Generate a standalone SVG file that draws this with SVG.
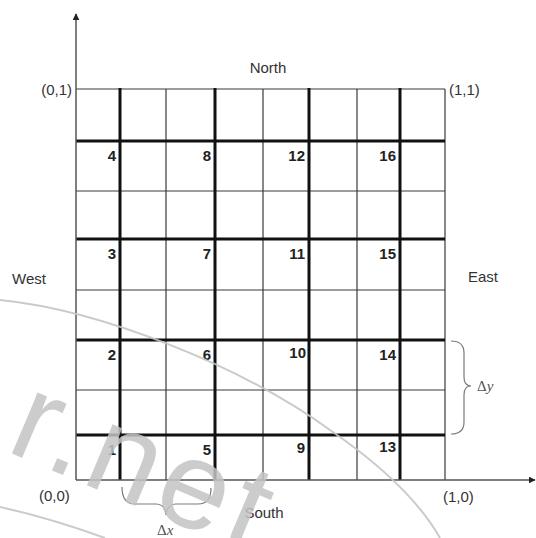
<svg xmlns="http://www.w3.org/2000/svg" width="536" height="538" viewBox="0 0 536 538">
<defs>
<style>
.thin{stroke:#3a3a3a;stroke-width:1.2;fill:none}
.thick{stroke:#111;stroke-width:3;fill:none}
.axis{stroke:#555;stroke-width:1.5;fill:none}
.brace{stroke:#7a7a7a;stroke-width:1.2;fill:none}
.lbl{font-family:"Liberation Sans",Arial,sans-serif;font-size:15px;fill:#333}
.num{font-family:"Liberation Sans",Arial,sans-serif;font-size:15px;font-weight:bold;fill:#222;text-anchor:end}
.delta{font-family:"Liberation Serif","Times New Roman",serif;font-size:15px;fill:#555}
.wm{fill:#c4c4c4;opacity:0.85}
.wmline{stroke:#c4c4c4;stroke-width:2;fill:none;opacity:0.9}
</style>
<marker id="arr" viewBox="0 0 10 10" refX="9" refY="5" markerWidth="7" markerHeight="7" orient="auto" markerUnits="userSpaceOnUse">
<path d="M0,0 L10,5 L0,10 Z" fill="#222"/>
</marker>
</defs>
<rect width="536" height="538" fill="#fff"/>

<g id="grid">
<path class="thin" d="M76,89H445 M76,191H445 M76,290H445 M76,390H445"/>
<path class="thin" d="M166,89V480 M263,89V480 M357,89V480 M445,89V480"/>
<path class="thick" d="M76,141H445 M76,239H445 M76,340H445 M76,435H445"/>
<path class="thick" d="M120,88V480 M215,88V480 M309,88V480 M400,88V480"/>
</g>

<g id="connectors">
<path class="axis" d="M76,480V14" marker-end="url(#arr)"/>
<path class="axis" d="M76,480H535" marker-end="url(#arr)"/>
<path class="brace" d="M122,487 Q122,504 135,504 L156,504 Q165,504 166,515 Q167,504 176,504 L198,504 Q211,504 211,488"/>
<path class="brace" d="M451,341 Q464,341 464,353 L464,377 Q464,386 471,386 Q464,386 464,395 L464,422 Q464,434 451,434"/>
</g>

<g id="cell-1"><text class="num" x="116" y="455">1</text></g>
<g id="cell-2"><text class="num" x="116" y="360">2</text></g>
<g id="cell-3"><text class="num" x="116" y="259">3</text></g>
<g id="cell-4"><text class="num" x="116" y="161">4</text></g>
<g id="cell-5"><text class="num" x="211" y="455">5</text></g>
<g id="cell-6"><text class="num" x="211" y="360">6</text></g>
<g id="cell-7"><text class="num" x="211" y="259">7</text></g>
<g id="cell-8"><text class="num" x="211" y="161">8</text></g>
<g id="cell-9"><text class="num" x="305" y="453">9</text></g>
<g id="cell-10"><text class="num" x="306" y="358">10</text></g>
<g id="cell-11"><text class="num" x="305" y="259">11</text></g>
<g id="cell-12"><text class="num" x="305" y="161">12</text></g>
<g id="cell-13"><text class="num" x="396" y="452">13</text></g>
<g id="cell-14"><text class="num" x="396" y="360">14</text></g>
<g id="cell-15"><text class="num" x="396" y="259">15</text></g>
<g id="cell-16"><text class="num" x="396" y="161">16</text></g>

<g id="labels">
<text class="lbl" x="268" y="73" text-anchor="middle">North</text>
<text class="lbl" x="264" y="518" text-anchor="middle">South</text>
<text class="lbl" x="12" y="284">West</text>
<text class="lbl" x="468" y="282">East</text>
<text class="lbl" x="72" y="95" text-anchor="end">(0,1)</text>
<text class="lbl" x="449" y="95">(1,1)</text>
<text class="lbl" x="39" y="501">(0,0)</text>
<text class="lbl" x="443" y="502">(1,0)</text>
<text class="delta" x="157" y="535">Δ<tspan font-style="italic">x</tspan></text>
<text class="delta" x="477" y="391">Δ<tspan font-style="italic">y</tspan></text>
</g>

<g id="watermark">
<path class="wmline" d="M0,300 C100,310 240,365 330,430 Q410,485 440,538"/>
<path class="wmline" d="M0,507 Q50,518 105,538"/>
<text class="wm" x="4" y="450" transform="rotate(23 4 450)" font-family="'Liberation Sans',Arial,sans-serif" font-size="125" letter-spacing="6">r.net</text>
</g>
</svg>
